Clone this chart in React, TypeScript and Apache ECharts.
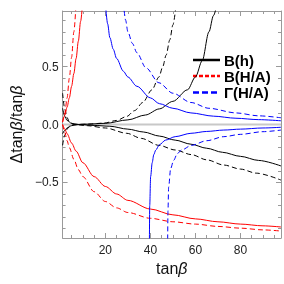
import React, { useEffect, useRef } from "react";
import * as echarts from "echarts";

// x range and ticks
const xMin = 1;
const xMax = 98;
const yMin = -0.98;
const yMax = 0.98;
const xMajorTicks = [20, 40, 60, 80];
const xMinorTicks = [5, 10, 15, 25, 30, 35, 45, 50, 55, 65, 70, 75, 85, 90, 95];
const yMajorTicks = [-0.5, 0, 0.5];
const yMinorTicks = [-0.9, -0.8, -0.7, -0.6, -0.4, -0.3, -0.2, -0.1, 0.1, 0.2, 0.3, 0.4, 0.6, 0.7, 0.8, 0.9];

// B(h) curves (black)
const blackSolidA = [[1, 0.14], [2, 0.07], [3, 0.035], [5, 0.01], [8, 0], [15, -0.008], [22, -0.015], [30, -0.04], [37, -0.065], [44, -0.1], [51, -0.135], [58, -0.17], [65, -0.205], [72, -0.24], [80, -0.275], [88, -0.31], [98, -0.358]];
const blackSolidB = [[1, -0.08], [2, -0.05], [3, -0.03], [5, -0.01], [8, 0], [12, 0.003], [20, 0.01], [30, 0.04], [37.8, 0.082], [44, 0.135], [50, 0.2], [56.5, 0.3], [60, 0.41], [63, 0.55], [66, 0.8], [68, 0.94], [70, 1.08]];
const blackDashedA = [[1, 0.27], [2, 0.13], [3, 0.06], [4, 0.02], [6, 0], [12, -0.01], [20, -0.03], [29.5, -0.076], [36, -0.12], [43.8, -0.18], [51, -0.22], [58.2, -0.26], [65, -0.305], [72.6, -0.35], [80, -0.385], [87, -0.42], [98, -0.48]];
const blackDashedB = [[1, -0.18], [2, -0.09], [3, -0.04], [4, -0.015], [6, 0], [12, 0.003], [19.4, 0.012], [25, 0.035], [29.5, 0.07], [33, 0.12], [36.6, 0.19], [40.7, 0.3], [43.8, 0.41], [45.5, 0.5], [47, 0.6], [48.6, 0.73], [50, 0.86], [51.5, 1.05]];

// B(H/A) curves (red)
const redSolidUp = [[1, 0.02], [2, 0.08], [3, 0.15], [4, 0.23], [5, 0.33], [6, 0.44], [7, 0.57], [8, 0.72], [9, 0.89], [10, 1.08]];
const redDashedUp = [[1, 0.02], [2, 0.1], [3, 0.23], [4, 0.4], [5, 0.58], [6, 0.8], [7, 1.05]];
const redSolidDown = [[1, 0], [2, -0.04], [3, -0.08], [5, -0.16], [7, -0.23], [10, -0.33], [15, -0.45], [20, -0.535], [25, -0.6], [30, -0.655], [40, -0.73], [50, -0.78], [60, -0.815], [70, -0.84], [80, -0.86], [90, -0.875], [98, -0.885]];
const redDashedDown = [[1, 0], [2, -0.07], [3, -0.14], [4, -0.2], [6, -0.3], [8, -0.39], [10, -0.45], [15, -0.58], [20, -0.665], [25, -0.72], [30, -0.76], [40, -0.81], [50, -0.84], [60, -0.86], [70, -0.88], [80, -0.895], [90, -0.91], [98, -0.92]];

// Γ(H/A) curves (blue)
const blueSolidUp = [[20, 1.05], [21, 0.87], [22, 0.75], [23.5, 0.65], [25, 0.57], [28, 0.46], [30, 0.41], [34, 0.33], [40, 0.23], [44, 0.18], [50, 0.14], [58, 0.1], [68, 0.072], [78, 0.054], [88, 0.042], [98, 0.032]];
const blueDashedUp = [[28, 1.05], [29, 0.9], [30, 0.8], [32, 0.7], [34, 0.62], [38, 0.49], [43.8, 0.36], [50, 0.27], [58, 0.19], [66, 0.14], [78, 0.1], [88, 0.075], [98, 0.058]];
const blueSolidDown = [[39.5, -1.2], [39.7, -0.7], [40.1, -0.45], [40.8, -0.33], [41.5, -0.26], [42.4, -0.22], [44, -0.175], [46.7, -0.135], [51, -0.105], [58, -0.076], [65, -0.06], [72.6, -0.048], [80, -0.04], [90, -0.03], [98, -0.024]];
const blueDashedDown = [[47.6, -1.2], [47.8, -0.75], [48.1, -0.54], [49, -0.38], [50.3, -0.31], [52, -0.25], [53.9, -0.22], [58.2, -0.18], [65, -0.14], [72.6, -0.105], [80, -0.085], [90, -0.062], [98, -0.048]];

const zeroLine = [[1, 0], [98, 0]];

const legendNames = ["B(h)", "B(H/A)", "Γ(H/A)"];

const FRAME = "#9a9a9a";
const FONT = "Liberation Sans, Arial, sans-serif";

function curve(data: number[][], color: string, dashed: boolean) {
  return {
    type: "line",
    data,
    symbol: "none",
    smooth: 0.3,
    smoothMonotone: "x",
    clip: true,
    silent: true,
    lineStyle: { color, width: 1, type: dashed ? [5, 3] : "solid" },
  };
}

export default function App() {
  const ref = useRef<HTMLDivElement>(null);
  useEffect(() => {
    if (!ref.current) return;
    const chart = echarts.init(ref.current, null, { renderer: "svg" });
    const xBase = { type: "value", min: xMin, max: xMax, gridIndex: 0, splitLine: { show: false } };
    const yBase = { type: "value", min: yMin, max: yMax, gridIndex: 0, splitLine: { show: false } };
    const fmtY = (v: number) => (v < 0 ? "\u2212" + Math.abs(v).toFixed(1) : v.toFixed(1));
    const line = (show: boolean) => ({ show, onZero: false, lineStyle: { color: FRAME, width: 1 } });
    const option: any = {
      animation: false,
      grid: { left: 56, top: 11, width: 225, height: 227, containLabel: false },
      xAxis: [
        {
          ...xBase,
          position: "bottom",
          name: "{a|tan}{b|β}",
          nameLocation: "middle",
          nameGap: 22,
          nameTextStyle: {
            rich: {
              a: { fontFamily: FONT, fontSize: 16, color: "#111" },
              b: { fontFamily: FONT, fontSize: 16, fontStyle: "italic", color: "#111" },
            },
          },
          axisLine: line(true),
          axisTick: { show: true, inside: true, length: 5, customValues: xMajorTicks, lineStyle: { color: FRAME } },
          axisLabel: { show: true, customValues: xMajorTicks, margin: 6, fontFamily: FONT, fontSize: 12, color: "#222" },
        },
        {
          ...xBase,
          position: "bottom",
          axisLine: line(false),
          axisTick: { show: true, inside: true, length: 3, customValues: xMinorTicks, lineStyle: { color: FRAME } },
          axisLabel: { show: false },
        },
        {
          ...xBase,
          position: "top",
          axisLine: line(true),
          axisTick: { show: true, inside: true, length: 5, customValues: xMajorTicks, lineStyle: { color: FRAME } },
          axisLabel: { show: false },
        },
        {
          ...xBase,
          position: "top",
          axisLine: line(false),
          axisTick: { show: true, inside: true, length: 3, customValues: xMinorTicks, lineStyle: { color: FRAME } },
          axisLabel: { show: false },
        },
      ],
      yAxis: [
        {
          ...yBase,
          position: "left",
          name: "{a|Δtan}{b|β}{a|/tan}{b|β}",
          nameLocation: "middle",
          nameGap: 33,
          nameRotate: 90,
          nameTextStyle: {
            rich: {
              a: { fontFamily: FONT, fontSize: 16, color: "#111" },
              b: { fontFamily: FONT, fontSize: 16, fontStyle: "italic", color: "#111" },
            },
          },
          axisLine: line(true),
          axisTick: { show: true, inside: true, length: 5, customValues: yMajorTicks, lineStyle: { color: FRAME } },
          axisLabel: { show: true, customValues: yMajorTicks, margin: 4, fontFamily: FONT, fontSize: 12, color: "#222", formatter: fmtY },
        },
        {
          ...yBase,
          position: "left",
          axisLine: line(false),
          axisTick: { show: true, inside: true, length: 3, customValues: yMinorTicks, lineStyle: { color: FRAME } },
          axisLabel: { show: false },
        },
        {
          ...yBase,
          position: "right",
          axisLine: line(true),
          axisTick: { show: true, inside: true, length: 5, customValues: yMajorTicks, lineStyle: { color: FRAME } },
          axisLabel: { show: false },
        },
        {
          ...yBase,
          position: "right",
          axisLine: line(false),
          axisTick: { show: true, inside: true, length: 3, customValues: yMinorTicks, lineStyle: { color: FRAME } },
          axisLabel: { show: false },
        },
      ],
      series: [
        { type: "line", data: zeroLine, symbol: "none", silent: true, lineStyle: { color: "#c8c8c8", width: 2 } },
        curve(blackSolidA, "#000", false),
        curve(blackSolidB, "#000", false),
        curve(blackDashedA, "#000", true),
        curve(blackDashedB, "#000", true),
        curve(redSolidUp, "#ff0000", false),
        curve(redDashedUp, "#ff0000", true),
        curve(redSolidDown, "#ff0000", false),
        curve(redDashedDown, "#ff0000", true),
        curve(blueSolidUp, "#0000ff", false),
        curve(blueDashedUp, "#0000ff", true),
        curve(blueSolidDown, "#0000ff", false),
        curve(blueDashedDown, "#0000ff", true),
      ],
      graphic: [
        { type: "line", shape: { x1: 193, y1: 60, x2: 220, y2: 60 }, style: { stroke: "#000", lineWidth: 2.5 } },
        { type: "line", shape: { x1: 193, y1: 76, x2: 220, y2: 76 }, style: { stroke: "#ff0000", lineWidth: 2.5, lineDash: [4, 2] } },
        { type: "line", shape: { x1: 193, y1: 92.5, x2: 220, y2: 92.5 }, style: { stroke: "#0000ff", lineWidth: 2.5, lineDash: [6, 3] } },
        { type: "text", x: 224, y: 60, style: { text: legendNames[0], font: `bold 15px ${FONT}`, fill: "#000", verticalAlign: "middle" } },
        { type: "text", x: 224, y: 76, style: { text: legendNames[1], font: `bold 15px ${FONT}`, fill: "#000", verticalAlign: "middle" } },
        { type: "text", x: 224, y: 92.5, style: { text: legendNames[2], font: `bold 15px ${FONT}`, fill: "#000", verticalAlign: "middle" } },
      ],
    };
    chart.setOption(option);
    return () => chart.dispose();
  }, []);
  return <div ref={ref} style={{ position: "fixed", left: 0, top: 0, width: 284, height: 284 }} />;
}
